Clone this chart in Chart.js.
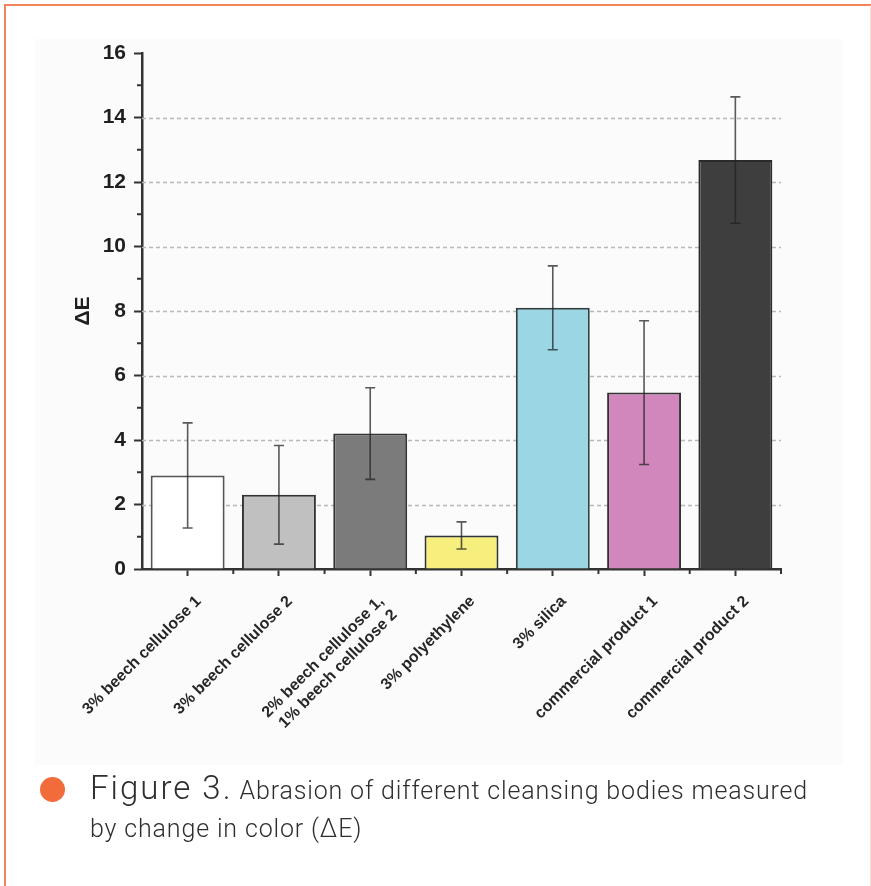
<!DOCTYPE html>
<html>
<head>
<meta charset="utf-8">
<script src="https://cdn.jsdelivr.net/npm/chart.js@4/dist/chart.umd.min.js"></script>
<style>
  html, body { margin: 0; padding: 0; background: #ffffff; }
  body { width: 871px; height: 886px; position: relative; overflow: hidden; }
  #frame {
    position: absolute; left: 4px; top: 4px; width: 864px; height: 1000px;
    border-left: 2px solid #f4845c; border-top: 2px solid #f4845c;
    border-right: 2px solid rgba(244,132,92,0.25);
  }
  #panel { position: absolute; left: 35px; top: 39px; width: 808px; height: 726px; background: #fbfbfb; }
  #wrap { position: absolute; left: 0; top: 0; width: 871px; height: 886px; }
  #dot { position: absolute; left: 39.5px; top: 776.5px; width: 25px; height: 25px; border-radius: 50%; background: #f26b3a; }
  .cap { position: absolute; left: 90px; white-space: nowrap; color: #2e2e2e; font-family: Roboto, "Liberation Sans", sans-serif; font-weight: 300; }
  #cap1 { top: 768px; line-height: 40px; }
  #cap1 .big { font-size: 33px; letter-spacing: 2px; }
  #cap1 .small { font-size: 25px; letter-spacing: 0.85px; }
  #cap2 { top: 812px; line-height: 34px; font-size: 25px; letter-spacing: 0.85px; }
</style>
</head>
<body>
<div id="frame"></div>
<div id="panel"></div>
<div id="wrap"><canvas id="chart" width="871" height="886"></canvas></div>
<div id="dot"></div>
<div class="cap" id="cap1"><span class="big">Figure 3.</span><span class="small"> Abrasion of different cleansing bodies measured</span></div>
<div class="cap" id="cap2">by change in color (ΔE)</div>
<script>
// Cleansing bodies tested and their abrasion (colour change ΔE), mean and standard deviation
const categories = [
  '3% beech cellulose 1',
  '3% beech cellulose 2',
  ['2% beech cellulose 1,', '1% beech cellulose 2'],
  '3% polyethylene',
  '3% silica',
  'commercial product 1',
  'commercial product 2'
];
const meanDeltaE = [2.9, 2.3, 4.2, 1.04, 8.1, 5.47, 12.68];
const sdDeltaE = [1.63, 1.53, 1.42, 0.42, 1.3, 2.23, 1.96];
const barColors = ['#ffffff', '#c0c0c0', '#7b7b7b', '#f6ef7d', '#9bd6e4', '#d186bc', '#3d3e3d'];
const yTicks = [0, 2, 4, 6, 8, 10, 12, 14, 16];
const yMinorTicks = [1, 3, 5, 7, 9, 11, 13, 15];
const gridValues = [2, 4, 6, 8, 10, 12, 14];

const axisColor = '#333333';

// Dashed grid, minor ticks and error bars
const extras = {
  id: 'extras',
  beforeDatasetsDraw(chart) {
    const { ctx, chartArea: a, scales: { y } } = chart;
    ctx.save();
    ctx.strokeStyle = '#b8b8b8';
    ctx.lineWidth = 1.3;
    ctx.setLineDash([4, 3]);
    gridValues.forEach(v => {
      const py = Math.round(y.getPixelForValue(v)) + 0.5;
      ctx.beginPath();
      ctx.moveTo(a.left, py);
      ctx.lineTo(a.right, py);
      ctx.stroke();
    });
    ctx.restore();
  },
  afterDatasetsDraw(chart) {
    const { ctx, scales: { y } } = chart;
    const meta = chart.getDatasetMeta(0);
    ctx.save();
    ctx.strokeStyle = 'rgba(35,35,35,0.75)';
    ctx.lineWidth = 1.6;
    meta.data.forEach((bar, i) => {
      const cx = bar.x;
      const top = y.getPixelForValue(meanDeltaE[i] + sdDeltaE[i]);
      const bot = y.getPixelForValue(meanDeltaE[i] - sdDeltaE[i]);
      ctx.beginPath();
      ctx.moveTo(cx, top); ctx.lineTo(cx, bot);
      ctx.moveTo(cx - 5, top); ctx.lineTo(cx + 5, top);
      ctx.moveTo(cx - 5, bot); ctx.lineTo(cx + 5, bot);
      ctx.stroke();
    });
    ctx.restore();
  },
  afterDraw(chart) {
    const { ctx, chartArea: a, scales: { x, y } } = chart;
    ctx.save();
    ctx.strokeStyle = axisColor;
    ctx.lineWidth = 2;
    // minor ticks on the value axis
    yMinorTicks.forEach(v => {
      const py = y.getPixelForValue(v);
      ctx.beginPath();
      ctx.moveTo(a.left - 5, py); ctx.lineTo(a.left, py);
      ctx.stroke();
    });
    // minor ticks between categories
    for (let i = 0; i < categories.length; i++) {
      const px = i < categories.length - 1
        ? (x.getPixelForValue(i) + x.getPixelForValue(i + 1)) / 2
        : a.right;
      ctx.beginPath();
      ctx.moveTo(px, a.bottom); ctx.lineTo(px, a.bottom + 5);
      ctx.stroke();
    }
    ctx.restore();
  }
};

new Chart(document.getElementById('chart'), {
  type: 'bar',
  data: {
    labels: categories,
    datasets: [{
      data: meanDeltaE,
      backgroundColor: barColors,
      borderColor: ['#555555', '#333333', '#333333', '#333333', '#2f3f42', '#333333', '#2a2a2a'],
      borderWidth: 2,
      borderSkipped: 'start',
      barPercentage: 0.81,
      categoryPercentage: 1.0
    }]
  },
  options: {
    responsive: false,
    animation: false,
    events: [],
    layout: { padding: { top: 53, right: 90, bottom: 137, left: 0 } },
    plugins: { legend: { display: false }, tooltip: { enabled: false }, title: { display: false } },
    scales: {
      x: {
        type: 'category',
        z: 1,
        grid: { display: true, offset: false, drawOnChartArea: false, drawTicks: true, tickLength: 7, tickColor: axisColor, tickWidth: 2 },
        border: { display: true, color: axisColor, width: 2.5 },
        ticks: {
          autoSkip: false,
          maxRotation: 45,
          minRotation: 45,
          padding: 16,
          labelOffset: (c) => (c.index === 2 ? 17 : 11),
          color: '#262626',
          font: { family: '"Liberation Sans", Arial, sans-serif', size: 16, weight: 'bold' }
        },
        afterFit(scale) { scale.height = 180; }
      },
      y: {
        min: 0,
        max: 16,
        z: 1,
        afterBuildTicks(scale) { scale.ticks = yTicks.map(v => ({ value: v })); },
        grid: { display: true, drawOnChartArea: false, drawTicks: true, tickLength: 8, tickColor: axisColor, tickWidth: 2 },
        border: { display: true, color: axisColor, width: 2.5 },
        ticks: {
          padding: 8,
          color: '#1f1f1f',
          font: { family: '"Liberation Sans", Arial, sans-serif', size: 21, weight: 'bold' }
        },
        title: {
          display: true,
          text: 'ΔE',
          color: '#1f1f1f',
          font: { family: '"Liberation Sans", Arial, sans-serif', size: 21, weight: 'bold' },
          padding: { top: 71, bottom: 0 }
        },
        afterFit(scale) { scale.width = 142; }
      }
    }
  },
  plugins: [extras]
});
</script>
</body>
</html>
